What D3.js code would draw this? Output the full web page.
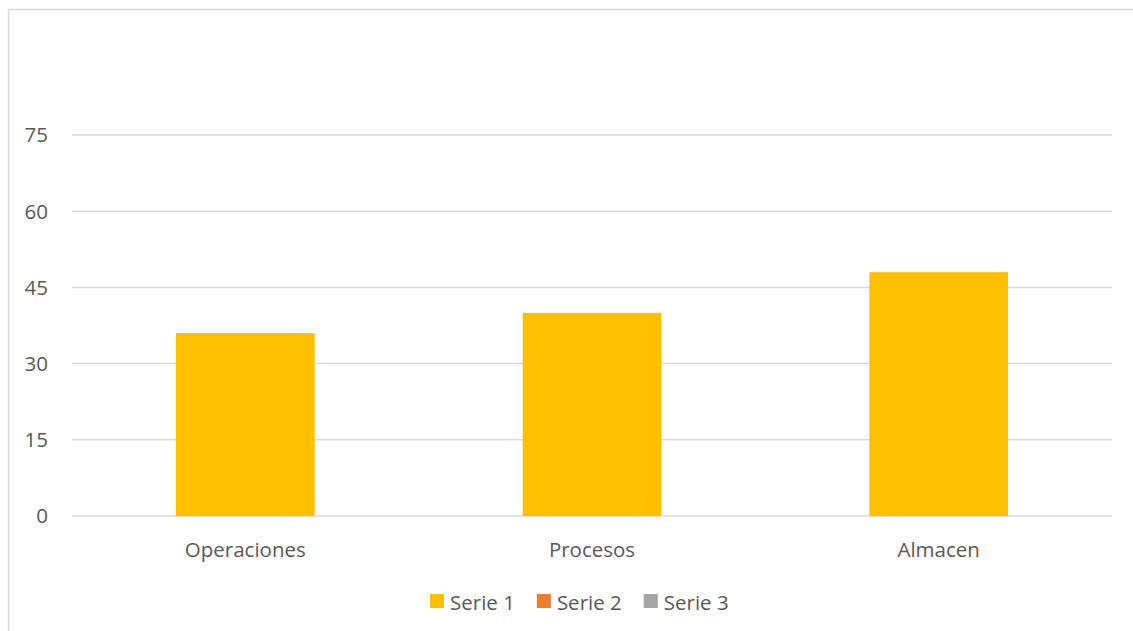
<!DOCTYPE html>
<html>
<head>
<meta charset="utf-8">
<script src="https://cdn.jsdelivr.net/npm/d3@7"></script>
<style>
body{margin:0;background:#fff;overflow:hidden;}
svg{display:block;font-family:"Open Sans","Noto Sans",sans-serif;}
</style>
</head>
<body>
<svg id="chart" width="1133" height="631"></svg>
<script>
var categories = ["Operaciones", "Procesos", "Almacen"];
var serie1 = [36, 40, 48];
var seriesNames = ["Serie 1", "Serie 2", "Serie 3"];
var seriesColors = ["#FFC000", "#ED7D31", "#A5A5A5"];
var yTicks = [0, 15, 30, 45, 60, 75];

var svg = d3.select("#chart");

// chart frame: only left and top edges are inside the picture
svg.append("path")
	.attr("d", "M8.5,631V9.5H1133")
	.attr("fill", "none")
	.attr("stroke", "#d9d9d9")
	.attr("stroke-width", 1.5);

var x = d3.scaleBand()
	.domain(categories)
	.range([72, 1112])
	.paddingInner(0.6)
	.paddingOuter(0.3);

var y = d3.scaleLinear()
	.domain([0, 75])
	.range([516, 135]);

// gridlines
svg.append("g").selectAll("line")
	.data(yTicks)
	.enter().append("line")
	.attr("x1", 72).attr("x2", 1112)
	.attr("y1", function(d){ return y(d); })
	.attr("y2", function(d){ return y(d); })
	.attr("stroke", "#d9d9d9")
	.attr("stroke-width", 1.5);

// y labels
svg.append("g").selectAll("text")
	.data(yTicks)
	.enter().append("text")
	.attr("x", 48)
	.attr("y", function(d){ return y(d); })
	.attr("dy", "0.36em")
	.attr("text-anchor", "end")
	.attr("fill", "#595959")
	.style("font-size", "20.5px")
	.text(function(d){ return d; });

// bars
svg.append("g").selectAll("rect")
	.data(serie1)
	.enter().append("rect")
	.attr("x", function(d, i){ return x(categories[i]); })
	.attr("width", x.bandwidth())
	.attr("y", function(d){ return y(d); })
	.attr("height", function(d){ return y(0) - y(d); })
	.attr("fill", seriesColors[0]);

// category labels
svg.append("g").selectAll("text")
	.data(categories)
	.enter().append("text")
	.attr("x", function(d){ return x(d) + x.bandwidth() / 2; })
	.attr("y", 557)
	.attr("text-anchor", "middle")
	.attr("fill", "#595959")
	.style("font-size", "20.5px")
	.text(function(d){ return d; });

// legend
var legend = svg.append("g");
var lx = 430;
seriesNames.forEach(function(name, i){
	legend.append("rect")
		.attr("x", lx).attr("y", 594)
		.attr("width", 14).attr("height", 14)
		.attr("fill", seriesColors[i]);
	var t = legend.append("text")
		.attr("x", lx + 20).attr("y", 610)
		.attr("fill", "#595959")
		.style("font-size", "20.5px")
		.text(name);
	lx += 20 + t.node().getComputedTextLength() + 22;
});
</script>
</body>
</html>
